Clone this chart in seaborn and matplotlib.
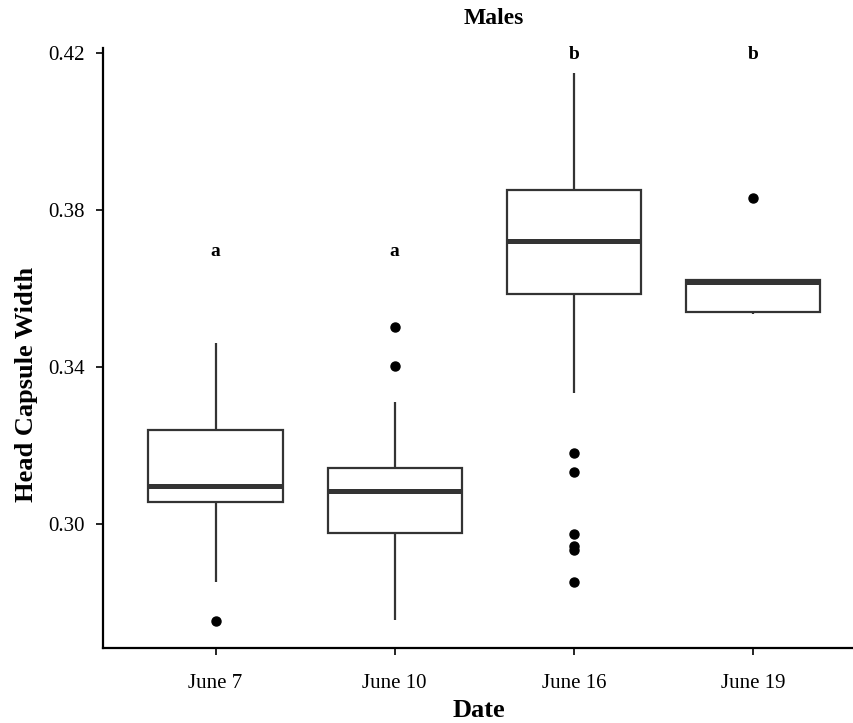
import numpy as np
import pandas as pd
import matplotlib
matplotlib.use("Agg")
import matplotlib.pyplot as plt
import seaborn as sns

# ---- data ----
dates = ["June 7", "June 10", "June 16", "June 19"]

june7 = [0.2754, 0.2853, 0.2920, 0.2985, 0.3030, 0.3055, 0.3060, 0.3070,
         0.3080, 0.3090, 0.3098, 0.3110, 0.3140, 0.3170, 0.3200, 0.3240,
         0.3260, 0.3290, 0.3330, 0.3390, 0.3461]
june10 = [0.2755, 0.2810, 0.2860, 0.2900, 0.2940, 0.2965, 0.2978, 0.2995,
          0.3010, 0.3030, 0.3050, 0.3070, 0.3083, 0.3090, 0.3100, 0.3110,
          0.3120, 0.3130, 0.3143, 0.3170, 0.3210, 0.3260, 0.3311, 0.3403,
          0.3502]
june16 = [0.2852, 0.2934, 0.2944, 0.2975, 0.3133, 0.3180, 0.3334, 0.3586,
          0.3600, 0.3620, 0.3640, 0.3660, 0.3680, 0.3700, 0.3721, 0.3740,
          0.3760, 0.3780, 0.3800, 0.3820, 0.3840, 0.3851, 0.3880, 0.3920,
          0.3960, 0.4000, 0.4050, 0.4100, 0.4149]
june19 = [0.3535, 0.3540, 0.3617, 0.3622, 0.3831]

letters = ["a", "a", "b", "b"]
letter_y = [0.3693, 0.3693, 0.4195, 0.4195]

yticks = [0.30, 0.34, 0.38, 0.42]

groups = [june7, june10, june16, june19]
df = pd.DataFrame({
    "Date": np.repeat(dates, [len(g) for g in groups]),
    "Head Capsule Width": np.concatenate(groups),
})

# ---- figure ----
sns.set_theme(style="white")
plt.rcParams["font.family"] = ["Liberation Serif", "DejaVu Serif"]
plt.rcParams["text.color"] = "black"
plt.rcParams["axes.labelcolor"] = "black"

W, H = 854, 723
fig = plt.figure(figsize=(W / 100, H / 100), dpi=100)
ax_left, ax_right, ax_top, ax_bottom = 103, 854, 48, 648
ax = fig.add_axes([ax_left / W, (H - ax_bottom) / H,
                   (ax_right - ax_left) / W, (ax_bottom - ax_top) / H])

line_c = "#333333"
sns.boxplot(data=df, x="Date", y="Head Capsule Width", order=dates,
            color="white", saturation=1, linecolor=line_c, linewidth=1.6,
            width=0.75, showcaps=False,
            medianprops=dict(color=line_c, linewidth=3.6),
            flierprops=dict(marker="o", markerfacecolor="black",
                            markeredgecolor="black", markersize=6.5),
            ax=ax)

for i, (lab, yv) in enumerate(zip(letters, letter_y)):
    ax.text(i, yv, lab, ha="center", va="center", fontsize=14,
            fontweight="bold", color="black")

ax.set_xlim(-0.628, 3.563)
ax.set_ylim(0.26841, 0.42127)
ax.set_yticks(yticks)
ax.set_yticklabels([f"{v:.2f}" for v in yticks])

for s in ["top", "right"]:
    ax.spines[s].set_visible(False)
for s in ["left", "bottom"]:
    ax.spines[s].set_color("black")
    ax.spines[s].set_linewidth(1.6)

ax.tick_params(axis="both", which="both", direction="out", length=5,
               width=1.2, color="black", labelsize=15, labelcolor="black",
               left=True, bottom=True)
ax.tick_params(axis="x", pad=14)
ax.tick_params(axis="y", pad=8)

ax.set_xlabel("Date", fontsize=19, fontweight="bold", labelpad=4)
ax.set_ylabel("Head Capsule Width", fontsize=19, fontweight="bold")
ax.yaxis.set_label_coords(-0.087, 0.44)
ax.grid(False)

fig.text(494 / W, 1 - 19 / H, "Males", ha="center", va="center",
         fontsize=17, fontweight="bold")

fig.savefig("out.png", dpi=100)
